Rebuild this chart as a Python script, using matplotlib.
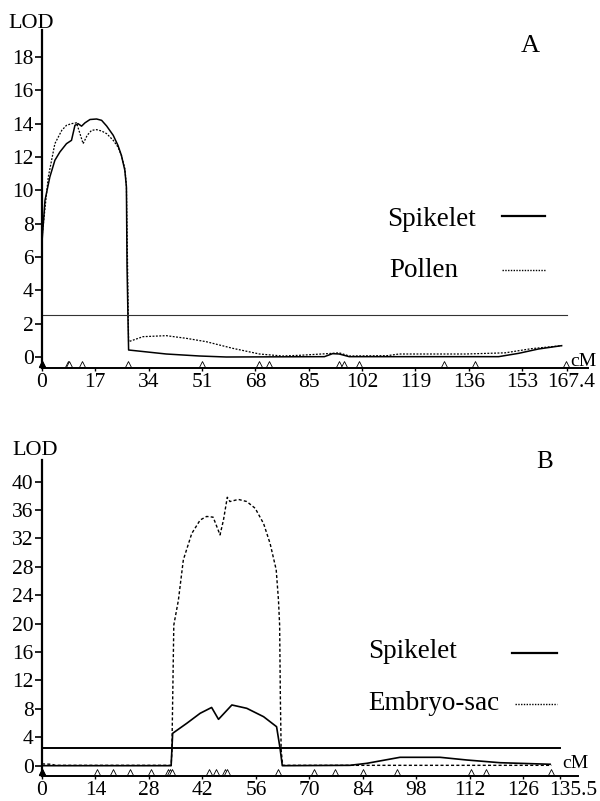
import numpy as np
from matplotlib import pyplot as plt
from matplotlib import transforms

plt.rcParams['font.family'] = ['Liberation Serif', 'DejaVu Serif']

# panel A: spikelet vs pollen fertility
a_cm_sp = [0, 0.95, 2.5, 4.1, 5.7, 7.8, 9.4, 10.5, 11.5, 12.6, 13.7, 15.3, 17.4, 19.0, 20.6,
           22.7, 24.2, 25.3, 26.4, 26.9, 27.1, 27.3, 27.45, 27.6, 39.6, 50.2, 58.7, 90.0,
           92.6, 94.7, 97.9, 145.5, 151.9, 158.2, 165.6]
a_lod_sp = [6.9, 9.4, 10.8, 11.8, 12.3, 12.8, 13.0, 13.9, 14.0, 13.85, 14.05, 14.25, 14.28, 14.2,
            13.86, 13.3, 12.7, 12.1, 11.2, 10.2, 5.4, 3.4, 1.8, 0.42, 0.18, 0.06, 0.0, 0.02,
            0.2, 0.18, 0.02, 0.02, 0.22, 0.48, 0.68]
a_cm_po = [0, 2.0, 4.1, 6.3, 7.8, 9.4, 11.0, 12.1, 13.1, 14.4, 15.8, 17.4, 19.0, 20.6, 22.7,
           24.2, 25.3, 26.4, 26.9, 27.3, 27.6, 32.2, 39.6, 46.0, 52.3, 60.8, 69.3, 76.6, 82.0,
           92.6, 94.7, 97.9, 110.0, 113.8, 135.0, 147.6, 156.0, 165.6]
a_lod_po = [7.2, 10.8, 12.8, 13.6, 13.9, 14.0, 14.05, 13.4, 12.8, 13.3, 13.6, 13.64, 13.56, 13.4,
            13.0, 12.6, 12.1, 11.3, 10.3, 5.0, 0.92, 1.22, 1.28, 1.12, 0.92, 0.52, 0.18, 0.06,
            0.1, 0.22, 0.25, 0.06, 0.08, 0.18, 0.18, 0.25, 0.5, 0.68]
a_markers = [0, 8.2, 8.6, 12.9, 27.4, 50.9, 69.2, 72.2, 94.8, 96.2, 101, 128, 138, 167]
a_ticks = [0, 17, 34, 51, 68, 85, 102, 119, 136, 153, 167.4]
a_ticklabels = ['0', '17', '34', '51', '68', '85', '102', '119', '136', '153', '167.4']

# panel B: spikelet vs embryo-sac fertility
b_cm_sp = [0, 33.8, 34.2, 37.9, 41.4, 44.4, 46.2, 49.7, 53.6, 58.0, 61.4, 62.3, 62.9, 80.6,
           85.0, 93.7, 104.2, 111.2, 119.9, 133.0]
b_lod_sp = [0.0, 0.0, 4.56, 5.97, 7.38, 8.2, 6.53, 8.55, 8.08, 6.9, 5.49, 2.5, 0.0, 0.05,
            0.33, 1.18, 1.18, 0.8, 0.42, 0.2]
b_cm_es = [0, 2.5, 3.5, 33.8, 34.0, 34.5, 35.7, 37.0, 39.2, 41.4, 43.1, 44.8, 46.6, 47.5, 48.5,
           49.2, 51.4, 53.6, 55.8, 58.0, 59.7, 61.3, 61.9, 62.2, 62.4, 62.6, 63.0, 133.4]
b_lod_es = [0.25, 0.2, 0.05, 0.05, 2.0, 19.8, 23.3, 29.0, 32.7, 34.6, 35.1, 35.0, 32.5, 34.6,
            37.8, 37.2, 37.5, 37.2, 36.25, 34.1, 31.3, 27.6, 23.3, 19.8, 9.25, 2.2, 0.05, 0.05]
b_markers = [0, 14.3, 18.6, 23.1, 28.5, 33.0, 33.5, 34.0, 43.7, 45.6, 48.0, 48.5, 61.9, 71.2,
             76.6, 84.1, 92.9, 112.3, 116.2, 133.3]
b_ticks = [0, 14, 28, 42, 56, 70, 84, 98, 112, 126, 135.5]
b_ticklabels = ['0', '14', '28', '42', '56', '70', '84', '98', '112', '126', '135.5']

threshold = 2.5

W, H = 600, 801


def px(x, y):
    return x / W, 1 - y / H


fig = plt.figure(figsize=(6, 8.01), dpi=100)
axA = fig.add_axes([42 / W, 1 - 368 / H, (588 - 42) / W, (368 - 30) / H])
axB = fig.add_axes([42 / W, 1 - 775.7 / H, (578 - 42) / W, (775.7 - 460) / H])

for ax in (axA, axB):
    for s in ('top', 'right'):
        ax.spines[s].set_visible(False)
    ax.spines['left'].set_linewidth(1.6)
    ax.spines['bottom'].set_linewidth(1.4)
    ax.tick_params(axis='y', direction='out', length=5, width=1.2, pad=1, labelsize=15.5)
    ax.tick_params(axis='x', direction='out', length=2.5, width=1.0, pad=1, labelsize=15.5)

# A
axA.plot(a_cm_sp, a_lod_sp, '-', color='black', lw=1.1)
axA.plot(a_cm_po, a_lod_po, color='black', lw=0.9, linestyle=(0, (1.5, 1.2)))
axA.plot([0, a_ticks[-1]], [threshold, threshold], '-', color='#333333', lw=0.8)
axA.plot(a_markers, np.full(len(a_markers), 0.012), '^', ms=4.5, mfc='white', mec='black',
         mew=0.6, transform=axA.get_xaxis_transform(), clip_on=False)
axA.plot(a_markers[0], 0.012, '^', ms=4.5, color='black',
         transform=axA.get_xaxis_transform(), clip_on=False)
axA.set_xlim(0, 174)
axA.set_ylim(-0.66, 19.62)
axA.set_yticks(range(0, 19, 2))
axA.set_xticks(a_ticks)
axA.set_xticklabels(a_ticklabels)

# B
axB.plot(b_cm_sp, b_lod_sp, '-', color='black', lw=1.2)
axB.plot(b_cm_es, b_lod_es, color='black', lw=1.0, linestyle=(0, (2.2, 1.6)))
axB.plot([0, b_ticks[-1]], [threshold, threshold], '-', color='black', lw=1.4)
axB.plot(b_markers, np.full(len(b_markers), 0.012), '^', ms=4.5, mfc='white', mec='black',
         mew=0.6, transform=axB.get_xaxis_transform(), clip_on=False)
axB.plot(b_markers[0], 0.012, '^', ms=4.5, color='black',
         transform=axB.get_xaxis_transform(), clip_on=False)
axB.set_xlim(0, 140.3)
axB.set_ylim(-1.41, 43.05)
axB.set_yticks(range(0, 41, 4))
axB.set_xticks(b_ticks)
axB.set_xticklabels(b_ticklabels)

# last tick labels sit a little to the right of their ticks
for ax, dx in ((axA, 4), (axB, 14)):
    lab = ax.get_xticklabels()[-1]
    lab.set_transform(lab.get_transform() + transforms.ScaledTranslation(dx / 100, 0, fig.dpi_scale_trans))

# labels
fig.text(*px(8, 28), 'LOD', fontsize=16, va='baseline', ha='left')
fig.text(*px(12, 455), 'LOD', fontsize=16, va='baseline', ha='left')
fig.text(*px(570, 366), 'cM', fontsize=14, va='baseline', ha='left')
fig.text(*px(562, 768), 'cM', fontsize=14, va='baseline', ha='left')
fig.text(*px(530, 52), 'A', fontsize=19, va='baseline', ha='center')
fig.text(*px(545, 468), 'B', fontsize=18, va='baseline', ha='center')

# legend A
fig.text(*px(387, 226), 'Spikelet', fontsize=19.5, va='baseline', ha='left')
fig.text(*px(389, 277), 'Pollen', fontsize=19.5, va='baseline', ha='left')
fig.add_artist(plt.Line2D([502 / W, 545 / W], [1 - 216 / H] * 2, color='black', lw=1.6))
fig.add_artist(plt.Line2D([502 / W, 545 / W], [1 - 270 / H] * 2, color='black', lw=1.0,
                          linestyle=(0, (1, 1))))

# legend B
fig.text(*px(368, 658), 'Spikelet', fontsize=19.5, va='baseline', ha='left')
fig.text(*px(368, 710), 'Embryo-sac', fontsize=19.5, va='baseline', ha='left')
fig.add_artist(plt.Line2D([512 / W, 557 / W], [1 - 653 / H] * 2, color='black', lw=1.6))
fig.add_artist(plt.Line2D([515 / W, 557 / W], [1 - 704 / H] * 2, color='black', lw=1.0,
                          linestyle=(0, (1, 1))))

plt.savefig('out.png', dpi=100)
